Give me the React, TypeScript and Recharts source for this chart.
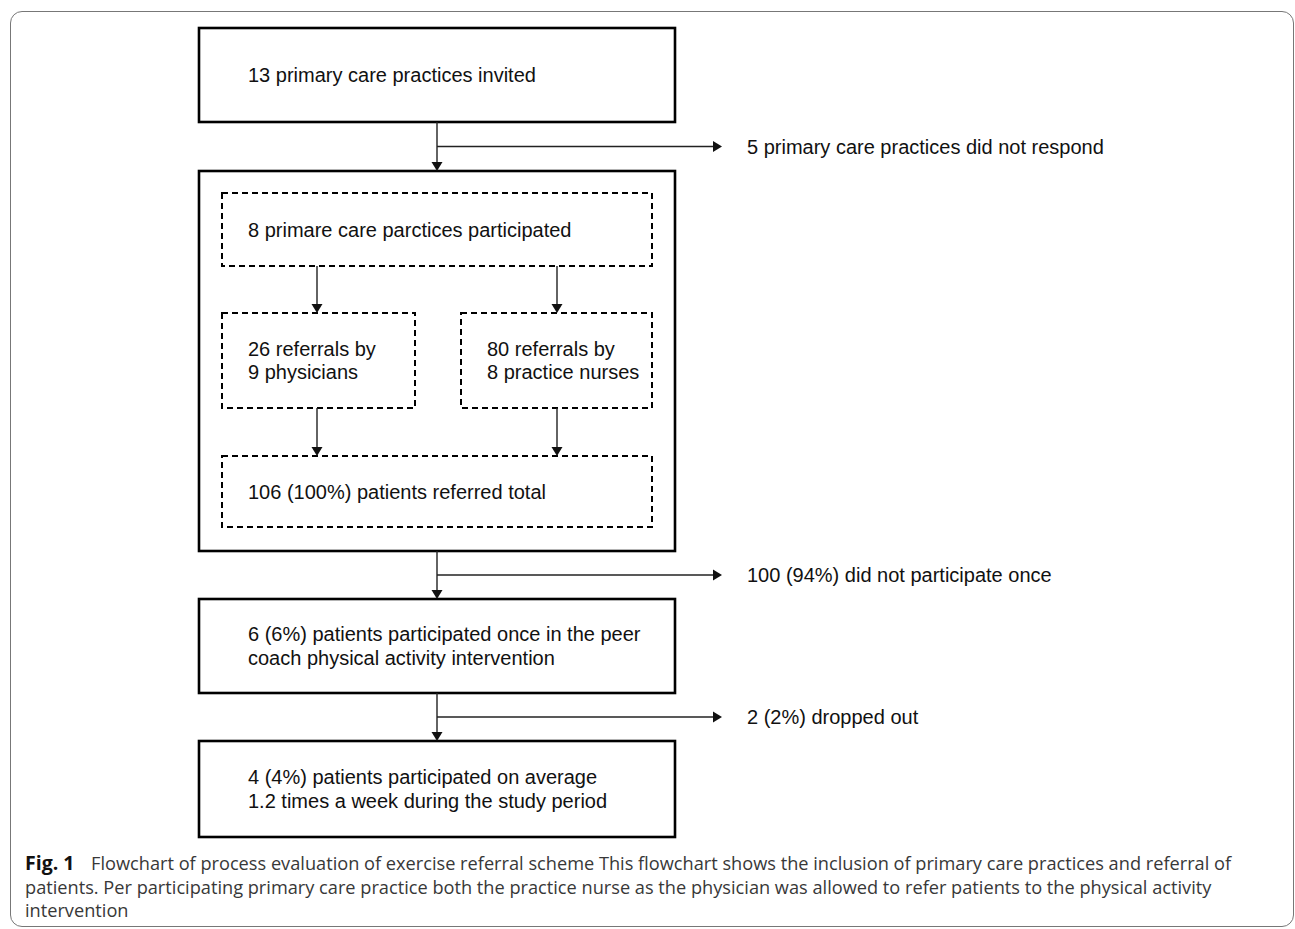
import React from 'react';
import { ComposedChart, XAxis, YAxis, ReferenceArea, ReferenceLine } from 'recharts';

// Texte der Hauptkästen (oben nach unten), der große Kasten hat selbst keinen Text
const stepLabels: string[][] = [
  ['13 primary care practices invited'],
  [],
  ['6 (6%) patients participated once in the peer', 'coach physical activity intervention'],
  ['4 (4%) patients participated on average', '1.2 times a week during the study period'],
];

// gestrichelte Kästen im großen Kasten
const referralLabels: string[][] = [
  ['8 primare care parctices participated'],
  ['26 referrals by', '9 physicians'],
  ['80 referrals by', '8 practice nurses'],
  ['106 (100%) patients referred total'],
];

// Ausstiege nach rechts
const exclusionLabels = [
  '5 primary care practices did not respond',
  '100 (94%) did not participate once',
  '2 (2%) dropped out',
];

const captionTitle = 'Fig. 1';
const captionLines = [
  'Flowchart of process evaluation of exercise referral scheme This flowchart shows the inclusion of primary care practices and referral of',
  'patients. Per participating primary care practice both the practice nurse as the physician was allowed to refer patients to the physical activity',
  'intervention',
];

// Layout (Pixel-Einheiten der Achsen), getrennt von den Daten
const W = 1295;
const H = 929;
const solidX = [199, 675];
const solidY = [[28, 122], [171, 551], [599, 693], [741, 837]];
const dashedBoxes = [
  { x: [222, 652], y: [193, 266] },
  { x: [222, 415], y: [313, 408] },
  { x: [461, 652], y: [313, 408] },
  { x: [222, 652], y: [456, 527] },
];
const mainX = 437;
const branchEnd = 722;
const innerArrows = [
  [317, 266, 317, 313],
  [557, 266, 557, 313],
  [317, 408, 317, 456],
  [557, 408, 557, 456],
];

const LINE_H = 23.5;
const FONT = '"Liberation Sans", Arial, sans-serif';

const BoxShape = (props: any) => {
  const { x, y, width, height, lines, pad, dashed } = props;
  const cy = y + height / 2;
  return (
    <g>
      <rect
        x={x}
        y={y}
        width={width}
        height={height}
        fill="none"
        stroke="#000"
        strokeWidth={dashed ? 2 : 2.6}
        strokeDasharray={dashed ? '6 4' : undefined}
      />
      {lines.map((t: string, i: number) => (
        <text
          key={i}
          x={x + pad}
          y={cy + (i - (lines.length - 1) / 2) * LINE_H}
          dominantBaseline="central"
          fontFamily={FONT}
          fontSize={20}
          fill="#111"
        >
          {t}
        </text>
      ))}
    </g>
  );
};

const ArrowShape = (props: any) => {
  const { x1, y1, x2, y2, text } = props;
  const dx = x2 - x1;
  const dy = y2 - y1;
  const len = Math.sqrt(dx * dx + dy * dy) || 1;
  const ux = dx / len;
  const uy = dy / len;
  const hl = 9;
  const hw = 5.5;
  const bx = x2 - ux * hl;
  const by = y2 - uy * hl;
  const pts = `${x2},${y2} ${bx - uy * hw},${by + ux * hw} ${bx + uy * hw},${by - ux * hw}`;
  return (
    <g>
      <line x1={x1} y1={y1} x2={bx} y2={by} stroke="#222" strokeWidth={1.4} />
      <polygon points={pts} fill="#111" />
      {text && (
        <text x={x2 + 25} y={y2} dominantBaseline="central" fontFamily={FONT} fontSize={20} fill="#111">
          {text}
        </text>
      )}
    </g>
  );
};

const App = () => {
  return (
    <div style={{ position: 'absolute', left: 0, top: 0, width: W, height: H, background: '#fff' }}>
      {/* Rahmen um die Abbildung */}
      <div
        style={{
          position: 'absolute',
          left: 10,
          top: 11,
          width: 1284,
          height: 916,
          border: '1.5px solid #777',
          borderRadius: 12,
          boxSizing: 'border-box',
        }}
      />
      <div style={{ position: 'absolute', left: 0, top: 0 }}>
        <ComposedChart width={W} height={H} data={[]} margin={{ top: 0, right: 0, bottom: 0, left: 0 }}>
          <XAxis type="number" dataKey="x" domain={[0, W]} hide allowDataOverflow />
          <YAxis type="number" dataKey="y" domain={[0, H]} reversed hide allowDataOverflow />

          {solidY.map((yy, i) => (
            <ReferenceArea
              key={`s${i}`}
              x1={solidX[0]}
              x2={solidX[1]}
              y1={yy[0]}
              y2={yy[1]}
              ifOverflow="visible"
              shape={(p: any) => <BoxShape {...p} lines={stepLabels[i]} pad={49} />}
            />
          ))}

          {dashedBoxes.map((b, i) => (
            <ReferenceArea
              key={`d${i}`}
              x1={b.x[0]}
              x2={b.x[1]}
              y1={b.y[0]}
              y2={b.y[1]}
              ifOverflow="visible"
              shape={(p: any) => <BoxShape {...p} lines={referralLabels[i]} pad={26} dashed />}
            />
          ))}

          {/* senkrechte Verbindungen zwischen den Hauptkästen und Abzweige */}
          {[0, 1, 2].map((i) => {
            const top = solidY[i][1];
            const bottom = solidY[i + 1][0];
            const mid = (top + bottom) / 2;
            return (
              <React.Fragment key={`m${i}`}>
                <ReferenceLine
                  segment={[{ x: mainX, y: top }, { x: mainX, y: bottom }]}
                  ifOverflow="visible"
                  shape={(p: any) => <ArrowShape {...p} />}
                />
                <ReferenceLine
                  segment={[{ x: mainX, y: mid }, { x: branchEnd, y: mid }]}
                  ifOverflow="visible"
                  shape={(p: any) => <ArrowShape {...p} text={exclusionLabels[i]} />}
                />
              </React.Fragment>
            );
          })}

          {innerArrows.map((a, i) => (
            <ReferenceLine
              key={`a${i}`}
              segment={[{ x: a[0], y: a[1] }, { x: a[2], y: a[3] }]}
              ifOverflow="visible"
              shape={(p: any) => <ArrowShape {...p} />}
            />
          ))}
        </ComposedChart>
      </div>

      {/* Bildunterschrift */}
      <div
        style={{
          position: 'absolute',
          left: 25,
          top: 851,
          fontFamily: '"Open Sans", sans-serif',
          fontSize: 18.2,
          lineHeight: `${LINE_H}px`,
          color: '#383838',
          whiteSpace: 'nowrap',
        }}
      >
        {captionLines.map((t, i) => (
          <div key={i}>
            {i === 0 && (
              <b style={{ color: '#111', fontSize: 19.5, display: 'inline-block', width: 66 }}>{captionTitle}</b>
            )}
            {t}
          </div>
        ))}
      </div>
    </div>
  );
};

export default App;
